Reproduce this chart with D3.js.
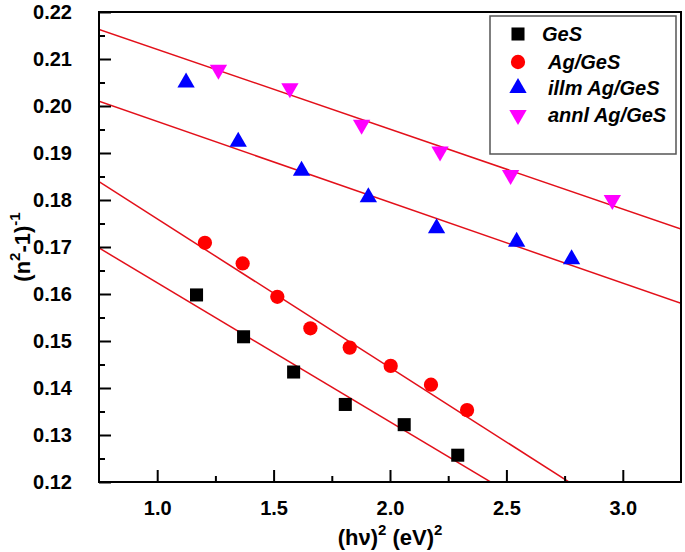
<!DOCTYPE html>
<html>
<head>
<meta charset="utf-8">
<script src="https://cdn.jsdelivr.net/npm/d3@7"></script>
<style>
  html, body { margin: 0; padding: 0; background: #fff; }
  svg { display: block; font-family: Arial, "Liberation Sans", sans-serif; }
</style>
</head>
<body>
<svg id="chart" width="685" height="552"></svg>
<script>
// ---- data ----
const seriesNames = ["GeS", "Ag/GeS", "illm Ag/GeS", "annl Ag/GeS"];
const gesX   = [1.169, 1.371, 1.586, 1.808, 2.061, 2.291];
const gesY   = [0.1598, 0.1509, 0.1434, 0.1365, 0.1322, 0.1257];
const agX    = [1.205, 1.367, 1.516, 1.658, 1.827, 2.003, 2.176, 2.331];
const agY    = [0.1709, 0.1665, 0.1594, 0.1527, 0.1486, 0.1447, 0.1407, 0.1353];
const illmX  = [1.124, 1.348, 1.620, 1.907, 2.200, 2.544, 2.780];
const illmY  = [0.2050, 0.1924, 0.1862, 0.1806, 0.1740, 0.1711, 0.1674];
const annlX  = [1.263, 1.570, 1.878, 2.215, 2.518, 2.955];
const annlY  = [0.2077, 0.2038, 0.1960, 0.1903, 0.1853, 0.1800];
// linear fits: value at x = 0.75 and slope
const fitStart = [0.1698, 0.1839, 0.2010, 0.2163];
const fitSlope = [-0.0296, -0.03165, -0.0172, -0.01699];
const xTicks = [1.0, 1.5, 2.0, 2.5, 3.0];
const xMinor = [1.25, 1.75, 2.25, 2.75];
const yTicks = [0.12, 0.13, 0.14, 0.15, 0.16, 0.17, 0.18, 0.19, 0.20, 0.21, 0.22];
const yMinor = [0.125, 0.135, 0.145, 0.155, 0.165, 0.175, 0.185, 0.195, 0.205, 0.215];

const colors = ["#000000", "#ff0000", "#0000ff", "#ff00ff"];
const series = [
  {x: gesX,  y: gesY,  sym: "square"},
  {x: agX,   y: agY,   sym: "circle"},
  {x: illmX, y: illmY, sym: "up"},
  {x: annlX, y: annlY, sym: "down"}
];

// ---- layout ----
const L = 99, R = 681, T = 12, B = 482;
const x = d3.scaleLinear().domain([0.75, 3.25]).range([L, R]);
const y = d3.scaleLinear().domain([0.12, 0.22]).range([B, T]);

const svg = d3.select("#chart");

svg.append("defs").append("clipPath").attr("id", "clip")
  .append("rect").attr("x", L).attr("y", T).attr("width", R - L).attr("height", B - T);

// fit lines
const gFit = svg.append("g").attr("clip-path", "url(#clip)");
fitStart.forEach((b, i) => {
  const x0 = 0.75, x1 = 3.25;
  gFit.append("line")
    .attr("x1", x(x0)).attr("y1", y(b))
    .attr("x2", x(x1)).attr("y2", y(b + fitSlope[i] * (x1 - x0)))
    .attr("stroke", "#e3101a").attr("stroke-width", 1.5);
});

// symbol helper
function symPath(kind) {
  if (kind === "square") return d3.symbol(d3.symbolSquare, 170)();
  if (kind === "circle") return d3.symbol(d3.symbolCircle, 160)();
  return d3.symbol(d3.symbolTriangle, 130)();
}
function symTransform(kind, px, py) {
  return kind === "down" ? `translate(${px},${py}) rotate(180)` : `translate(${px},${py})`;
}

// points
series.forEach((s, i) => {
  svg.append("g").selectAll("path").data(s.x.map((v, j) => [v, s.y[j]])).join("path")
    .attr("d", symPath(s.sym))
    .attr("transform", d => symTransform(s.sym, x(d[0]), y(d[1])))
    .attr("fill", colors[i]);
});

// axes: ticks inward
const xAxis = d3.axisBottom(x).tickValues(xTicks).tickFormat(d3.format(".1f"))
  .tickSizeInner(-12).tickSizeOuter(0).tickPadding(19);
const gx = svg.append("g").attr("transform", `translate(0,${B})`).call(xAxis);
gx.select(".domain").remove();
gx.selectAll(".tick line").attr("stroke", "#000").attr("stroke-width", 2);
gx.selectAll(".tick text").attr("font-size", 20).attr("font-weight", "bold").attr("fill", "#000");
const xAxisMinor = d3.axisBottom(x).tickValues(xMinor).tickFormat("").tickSizeInner(-6).tickSizeOuter(0);
const gxm = svg.append("g").attr("transform", `translate(0,${B})`).call(xAxisMinor);
gxm.select(".domain").remove();
gxm.selectAll(".tick line").attr("stroke", "#000").attr("stroke-width", 2);

const yAxis = d3.axisLeft(y).tickValues(yTicks).tickFormat(d3.format(".2f"))
  .tickSizeInner(-12).tickSizeOuter(0).tickPadding(27);
const gy = svg.append("g").attr("transform", `translate(${L},0)`).call(yAxis);
gy.select(".domain").remove();
gy.selectAll(".tick line").attr("stroke", "#000").attr("stroke-width", 2);
gy.selectAll(".tick text").attr("font-size", 20).attr("font-weight", "bold").attr("fill", "#000");
const yAxisMinor = d3.axisLeft(y).tickValues(yMinor).tickFormat("").tickSizeInner(-6).tickSizeOuter(0);
const gym = svg.append("g").attr("transform", `translate(${L},0)`).call(yAxisMinor);
gym.select(".domain").remove();
gym.selectAll(".tick line").attr("stroke", "#000").attr("stroke-width", 2);

// frame
svg.append("rect").attr("x", L).attr("y", T).attr("width", R - L).attr("height", B - T)
  .attr("fill", "none").attr("stroke", "#000").attr("stroke-width", 2);

// axis titles
const xt = svg.append("text").attr("x", (L + R) / 2).attr("y", 545)
  .attr("text-anchor", "middle").attr("font-size", 22).attr("font-weight", "bold");
xt.append("tspan").text("(hν)");
xt.append("tspan").attr("dy", -10).attr("font-size", 15).text("2");
xt.append("tspan").attr("dy", 10).text(" (eV)");
xt.append("tspan").attr("dy", -10).attr("font-size", 15).text("2");

const yt = svg.append("text").attr("transform", `translate(30,${(T + B) / 2}) rotate(-90)`)
  .attr("text-anchor", "middle").attr("font-size", 22).attr("font-weight", "bold");
yt.append("tspan").text("(n");
yt.append("tspan").attr("dy", -10).attr("font-size", 15).text("2");
yt.append("tspan").attr("dy", 10).text("-1)");
yt.append("tspan").attr("dy", -10).attr("font-size", 15).text("-1");

// legend
svg.append("rect").attr("x", 490).attr("y", 16).attr("width", 186).attr("height", 138)
  .attr("fill", "#fff").attr("stroke", "#555").attr("stroke-width", 1.5);
const legRowY = [34, 62, 88, 115];
const legTextX = [542, 548, 548, 548];
series.forEach((s, i) => {
  svg.append("path").attr("d", symPath(s.sym))
    .attr("transform", symTransform(s.sym, 518, legRowY[i]))
    .attr("fill", colors[i]);
  svg.append("text").attr("x", legTextX[i]).attr("y", legRowY[i] + 7)
    .attr("font-size", 20).attr("font-weight", "bold").attr("font-style", "italic")
    .attr("fill", "#000").text(seriesNames[i]);
});
</script>
</body>
</html>
